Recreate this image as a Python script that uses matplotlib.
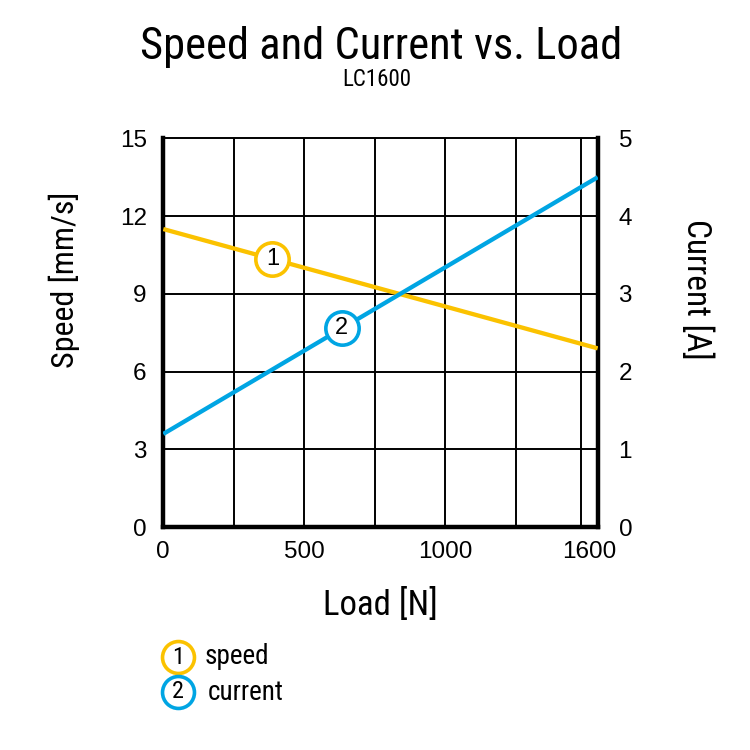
import matplotlib
matplotlib.use("Agg")
import numpy as np
import matplotlib.pyplot as plt

NARROW = ['Roboto Condensed', 'DejaVu Sans']
PLAIN = ['Liberation Sans', 'DejaVu Sans']

# data
load = [0, 1540]
speed = [11.5, 6.9]        # mm/s
current = [1.2, 4.5]       # A
grid_x = [250, 500, 750, 1000, 1250, 1480]
grid_y = [3, 6, 9, 12]
x_ticks = [0, 500, 1000, 1510]
x_labels = ['0', '500', '1000', '1600']
speed_ticks = [0, 3, 6, 9, 12, 15]
current_ticks = [0, 1, 2, 3, 4, 5]
badge_load = [387, 633]    # where the numbered circles sit
names_legend = ['speed', 'current']

YELLOW = '#FBC200'
BLUE = '#00A5E3'

fig = plt.figure(figsize=(7.5, 7.5), dpi=100)
ax = fig.add_axes([163.3 / 750, 1 - 527.3 / 750, 434.4 / 750, 389 / 750])
ax.set_xlim(0, 1540)
ax.set_ylim(0, 15)

for gx in grid_x:
    ax.axvline(gx, color='black', lw=1.4, zorder=1)
for gy in grid_y:
    ax.axhline(gy, color='black', lw=1.4, zorder=1)

for side in ['left', 'bottom', 'right']:
    ax.spines[side].set_linewidth(3.2)
ax.spines['top'].set_linewidth(1.4)

ax.set_xticks(x_ticks)
ax.set_xticklabels(x_labels)
ax.set_yticks(speed_ticks)
ax.tick_params(axis='both', length=0, labelsize=17.5)
ax.tick_params(axis='x', pad=10)
ax.tick_params(axis='y', pad=12)
for lab in ax.get_xticklabels() + ax.get_yticklabels():
    lab.set_family(PLAIN)

ax.plot(load, speed, color=YELLOW, lw=3.1, solid_capstyle='butt', zorder=3)

ax2 = ax.twinx()
ax2.set_ylim(0, 5)
ax2.set_yticks(current_ticks)
ax2.tick_params(axis='y', length=0, labelsize=17.5, pad=15)
for lab in ax2.get_yticklabels():
    lab.set_family(PLAIN)
for s in ax2.spines.values():
    s.set_visible(False)
ax2.plot(load, current, color=BLUE, lw=3.1, solid_capstyle='butt', zorder=3)

# numbered circles on the curves
sp_b = np.interp(badge_load[0], load, speed)
cu_b = np.interp(badge_load[1], load, current)
ax.plot(badge_load[0], sp_b, 'o', ms=24, mfc='white', mec=YELLOW, mew=2.6, zorder=4)
ax.text(badge_load[0], sp_b, '1', ha='center', va='center', fontsize=17, family=PLAIN, zorder=5)
ax2.plot(badge_load[1], cu_b, 'o', ms=24, mfc='white', mec=BLUE, mew=2.6, zorder=4)
ax2.text(badge_load[1], cu_b, '2', ha='center', va='center', fontsize=17, family=PLAIN, zorder=5)

# titles and axis names
fig.text(381 / 750, 1 - 47 / 750, 'Speed and Current vs. Load', ha='center', va='center',
         fontsize=32, family=NARROW)
fig.text(377 / 750, 1 - 79 / 750, 'LC1600', ha='center', va='center', fontsize=16.5, family=NARROW)
fig.text(64 / 750, 1 - 280 / 750, 'Speed [mm/s]', rotation=90, ha='center', va='center',
         fontsize=23, family=NARROW)
fig.text(696 / 750, 1 - 289 / 750, 'Current [A]', rotation=270, ha='center', va='center',
         fontsize=24, family=NARROW)
fig.text(380 / 750, 1 - 605 / 750, 'Load [N]', ha='center', va='center',
         fontsize=25, family=NARROW)

# legend under the chart
lg = fig.add_axes([0, 0, 1, 1], zorder=-1)
lg.set_xlim(0, 750)
lg.set_ylim(750, 0)
lg.axis('off')
for i, (name, col) in enumerate(zip(names_legend, [YELLOW, BLUE])):
    yy = 657 + 35 * i
    lg.plot(178, yy, 'o', ms=23, mfc='white', mec=col, mew=2.6)
    lg.text(178, yy, str(i + 1), ha='center', va='center', fontsize=17.5, family=NARROW)
    lg.text(205 + 3 * i, yy, name, ha='left', va='center', fontsize=19.5, family=NARROW)

fig.savefig('out.png', dpi=100)
